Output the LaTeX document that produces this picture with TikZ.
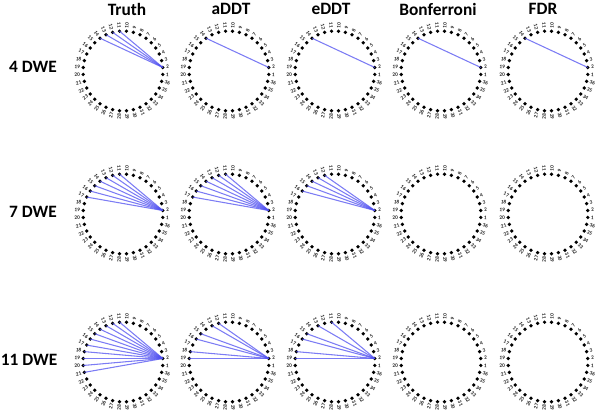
\documentclass[tikz,border=0pt]{standalone}
\usepackage{fontspec}
\setmainfont{Carlito}
\usetikzlibrary{calc}
\tikzset{
  dot/.style={circle, fill=black, inner sep=0pt, minimum size=2.8pt},
  lab/.style={font=\bfseries\fontsize{4}{4}\selectfont, inner sep=0pt, text=black!85},
  edgeline/.style={draw={rgb,255:red,80;green,80;blue,240}, line width=0.8pt, opacity=0.75},
  ttl/.style={font=\bfseries\fontsize{13}{13}\selectfont, inner sep=0pt},
}
\newcommand\ringnet[3]{%
  \foreach \k in {1,...,36}{%
    \pgfmathsetmacro\ang{10*\k-15}%
    \node[dot] (#1n\k) at ($(#2,#3)+(\ang:40)$) {};
    \pgfmathparse{cos(\ang)<0?1:0}%
    \ifnum\pgfmathresult=1
      \node[lab, rotate=\ang+180, anchor=east] (#1l\k) at ($(#2,#3)+(\ang:43)$) {\k};
    \else
      \node[lab, rotate=\ang, anchor=west] (#1l\k) at ($(#2,#3)+(\ang:43)$) {\k};
    \fi
  }%
}
\begin{document}
\begin{tikzpicture}[x=0.75pt, y=0.75pt]
\useasboundingbox (0,0) rectangle (600,417);
% column titles
\node[ttl] (tTruth) at (127,408) {Truth};
\node[ttl] (taDDT) at (231,408) {aDDT};
\node[ttl] (teDDT) at (331,408) {eDDT};
\node[ttl] (tBon) at (438,408) {Bonferroni};
\node[ttl] (tFDR) at (543,408) {FDR};
% row titles
\node[ttl] (r1) at (33,350) {4 DWE};
\node[ttl] (r2) at (33,205) {7 DWE};
\node[ttl] (r3) at (29,57) {11 DWE};
% row 1
\ringnet{a}{123}{346}
\ringnet{b}{229}{346}
\ringnet{c}{335}{346}
\ringnet{d}{441}{346}
\ringnet{e}{548}{346}
\foreach \t in {11,...,14} \draw[edgeline] (an2.center) -- (an\t.center);
\draw[edgeline] (bn2.center) -- (bn14.center);
\draw[edgeline] (cn2.center) -- (cn14.center);
\draw[edgeline] (dn2.center) -- (dn14.center);
\draw[edgeline] (en2.center) -- (en14.center);
% row 2
\ringnet{f}{123}{203}
\ringnet{g}{229}{203}
\ringnet{h}{335}{203}
\ringnet{i}{441}{203}
\ringnet{j}{548}{203}
\foreach \t in {11,...,17} \draw[edgeline] (fn2.center) -- (fn\t.center);
\foreach \t in {11,...,17} \draw[edgeline] (gn2.center) -- (gn\t.center);
\foreach \t in {12,...,16} \draw[edgeline] (hn2.center) -- (hn\t.center);
% row 3
\ringnet{k}{123}{55}
\ringnet{l}{229}{55}
\ringnet{m}{335}{55}
\ringnet{n}{441}{55}
\ringnet{o}{548}{55}
\foreach \t in {11,...,21} \draw[edgeline] (kn2.center) -- (kn\t.center);
\foreach \t in {12,13,15,16,18,19} \draw[edgeline] (ln2.center) -- (ln\t.center);
\foreach \t in {11,13,15,16,18,19} \draw[edgeline] (mn2.center) -- (mn\t.center);
\end{tikzpicture}
\end{document}
